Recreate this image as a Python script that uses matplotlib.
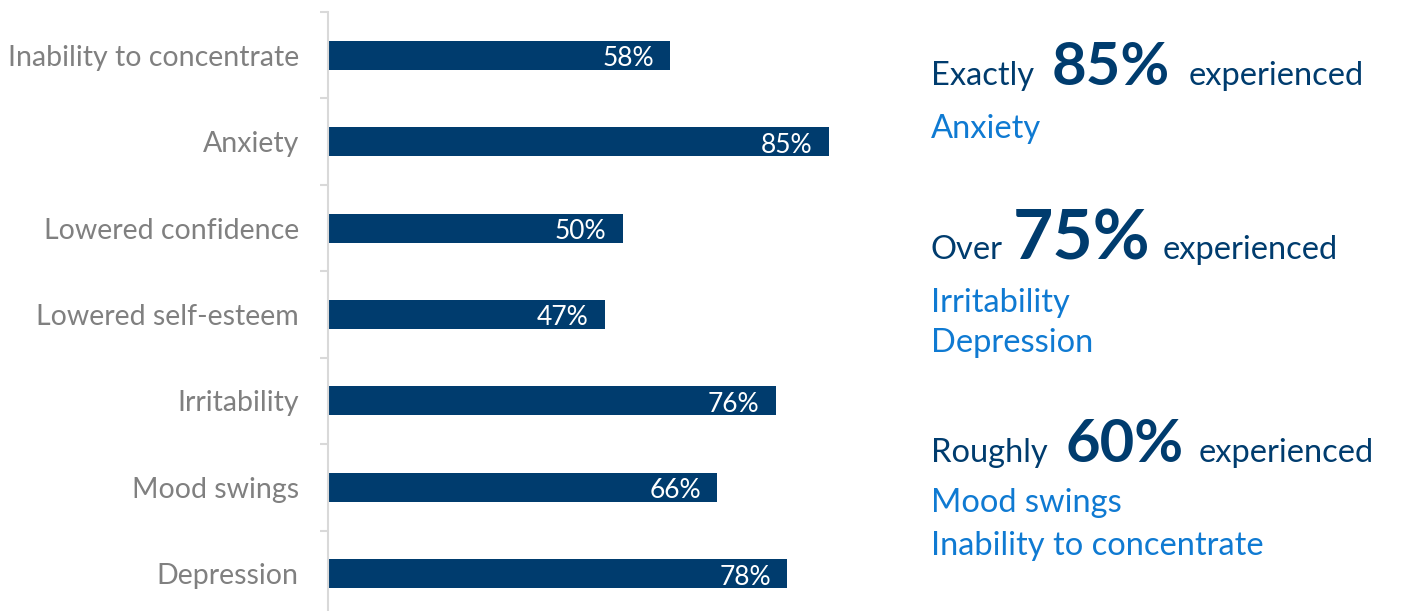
import matplotlib.pyplot as plt
from matplotlib.ticker import FixedLocator

plt.rcParams["font.family"] = ["Lato", "DejaVu Sans"]

symptoms = [
    "Inability to concentrate",
    "Anxiety",
    "Lowered confidence",
    "Lowered self-esteem",
    "Irritability",
    "Mood swings",
    "Depression",
]
percent = [58, 85, 50, 47, 76, 66, 78]

# callout blocks on the right: (prefix, big number, suffix, listed symptoms)
callouts = [
    ("Exactly", "85%", "experienced", ["Anxiety"]),
    ("Over", "75%", "experienced", ["Irritability", "Depression"]),
    ("Roughly", "60%", "experienced", ["Mood swings", "Inability to concentrate"]),
]
big_sizes = [43, 50, 43]
gaps = [(18, 18), (10, 12), (18, 15)]

navy = "#003C6E"
blue = "#0F7AD2"
grey = "#808080"
rule = "#D9D9D9"

W, H = 1405, 611
fig = plt.figure(figsize=(W / 100, H / 100), dpi=100)
ax = fig.add_axes([328 / W, -6 / H, 589 / W, 605 / H])

ypos = list(range(len(symptoms)))
ax.barh(ypos, percent, height=0.335, color=navy)
for y, v in zip(ypos, percent):
    ax.text(v - 2.7, y + 0.04, f"{v}%", color="white", fontsize=19,
            ha="right", va="center")

ax.set_xlim(0, 100)
ax.set_ylim(len(symptoms) - 0.5, -0.5)
ax.set_yticks(ypos)
ax.set_yticklabels(symptoms, fontsize=20.5, color=grey)
ax.yaxis.set_minor_locator(FixedLocator([i - 0.5 for i in range(len(symptoms) + 1)]))
ax.tick_params(axis="y", which="major", length=0, pad=21)
ax.tick_params(axis="y", which="minor", length=6, width=1.5, color=rule)
ax.set_xticks([])
for side in ["top", "right", "bottom"]:
    ax.spines[side].set_visible(False)
ax.spines["left"].set_color(rule)
ax.spines["left"].set_linewidth(1.5)

# right-hand text, laid out piece by piece in pixel space
fig.canvas.draw()
renderer = fig.canvas.get_renderer()
head_base = [85, 259, 462]
list_base = [[138], [312, 352], [512, 555]]
x0 = 931
for (pre, big, post, items), bs, (g1, g2), yb, ylist in zip(
        callouts, big_sizes, gaps, head_base, list_base):
    x = x0
    for s, size, weight, gap in [(pre, 23.5, "normal", g1), (big, bs, "bold", g2), (post, 23.5, "normal", 0)]:
        t = fig.text(x / W, 1 - yb / H, s, fontsize=size, fontweight=weight,
                     color=navy, ha="left", va="baseline")
        x += t.get_window_extent(renderer).width + gap
    for item, yl in zip(items, ylist):
        fig.text(x0 / W, 1 - yl / H, item, fontsize=23.5, color=blue,
                 ha="left", va="baseline")

fig.savefig("out.png", dpi=100)
